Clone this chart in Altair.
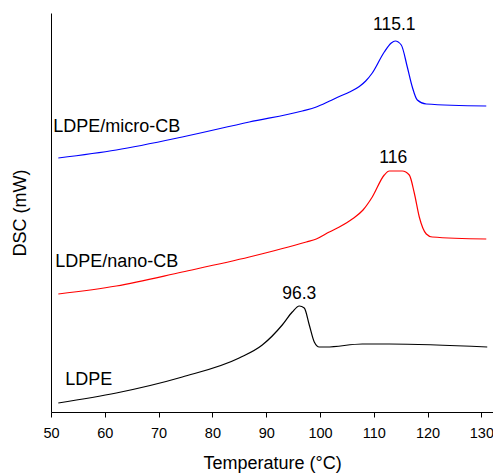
import altair as alt
import pandas as pd

# Temperatures (°C) and DSC signals (arbitrary, offset)
micro_T = [51.36, 62.14, 74.40, 86.86, 96.71, 99.31, 101.8, 103.59, 105.5, 107.31, 108.5, 109.72, 111.95, 113.25, 113.99, 115.11, 116.23, 117.16, 118.09, 119.76, 130.91]
micro_Y = [2.54, 2.62, 2.75, 2.90, 3.01, 3.05, 3.11, 3.155, 3.20, 3.255, 3.31, 3.39, 3.60, 3.69, 3.71, 3.67, 3.45, 3.25, 3.12, 3.08, 3.06]

nano_T = [51.36, 62.14, 74.40, 86.86, 97.45, 99.31, 101.73, 103.59, 106.00, 108.0, 109.72, 111.95, 112.88, 115.30, 116.60, 117.53, 118.46, 119.76, 120.87, 130.91]
nano_Y = [1.18, 1.26, 1.40, 1.55, 1.70, 1.73, 1.80, 1.85, 1.93, 2.02, 2.15, 2.37, 2.41, 2.41, 2.37, 2.19, 1.95, 1.78, 1.75, 1.73]

ldpe_T = [51.36, 62.14, 74.40, 84.98, 89.27, 92.98, 94.85, 96.15, 97.08, 98.01, 98.94, 99.87, 101.17, 107.86, 112.88, 131.09]
ldpe_Y = [0.09, 0.19, 0.35, 0.54, 0.67, 0.87, 1.00, 1.06, 1.04, 0.87, 0.70, 0.65, 0.65, 0.68, 0.68, 0.65]

series_names = ["LDPE/micro-CB", "LDPE/nano-CB", "LDPE"]
series_colors = ["#0000ff", "#ff0000", "#000000"]

peak_text = ["115.1", "116", "96.3"]
peak_x = [113.81, 113.62, 96.15]
peak_y = [3.87, 2.54, 1.18]

name_text = ["LDPE/micro-CB", "LDPE/nano-CB", "LDPE"]
name_x = [50.43, 50.80, 52.66]
name_y = [2.85, 1.50, 0.32]

x_ticks = list(range(50, 131, 5))

rows = []
for name, T, Y in zip(series_names, [micro_T, nano_T, ldpe_T], [micro_Y, nano_Y, ldpe_Y]):
    for i, (t, y) in enumerate(zip(T, Y)):
        rows.append({"series": name, "T": t, "DSC": y, "order": i})
df = pd.DataFrame(rows)

peaks = pd.DataFrame({"text": peak_text, "T": peak_x, "DSC": peak_y})
names = pd.DataFrame({"text": name_text, "T": name_x, "DSC": name_y})

FONT = "Liberation Sans"

x_scale = alt.Scale(domain=[50, 132.16], nice=False)
y_scale = alt.Scale(domain=[0, 3.99], nice=False)

x_axis = alt.Axis(
    values=x_ticks,
    labelExpr="datum.value % 10 === 0 ? datum.label : ''",
    tickSize={"condition": {"test": "datum.value % 10 === 0", "value": 5}, "value": 3},
    tickColor="black",
    domainColor="black",
    labelColor="black",
    labelFont=FONT,
    labelFontSize=14.5,
    labelPadding=9,
    labelFlush=False,
    labelOverlap=False,
    grid=False,
    title="Temperature (°C)",
    titleFont=FONT,
    titleFontSize=18,
    titleFontWeight="normal",
    titleColor="black",
    titlePadding=15,
)
y_axis = alt.Axis(
    ticks=False,
    labels=False,
    grid=False,
    domainColor="black",
    title="DSC (mW)",
    titleFont=FONT,
    titleFontSize=18,
    titleFontWeight="normal",
    titleColor="black",
    titlePadding=22,
)

lines = alt.Chart(df).mark_line(strokeWidth=1.2, interpolate="monotone").encode(
    x=alt.X("T:Q", scale=x_scale, axis=x_axis),
    y=alt.Y("DSC:Q", scale=y_scale, axis=y_axis),
    color=alt.Color("series:N", scale=alt.Scale(domain=series_names, range=series_colors), legend=None),
    order="order:Q",
)

peak_layer = alt.Chart(peaks).mark_text(font=FONT, fontSize=17.5, align="center", baseline="middle", color="black").encode(
    x=alt.X("T:Q", scale=x_scale),
    y=alt.Y("DSC:Q", scale=y_scale),
    text="text:N",
)

name_layer = alt.Chart(names).mark_text(font=FONT, fontSize=18, align="left", baseline="middle", color="black").encode(
    x=alt.X("T:Q", scale=x_scale),
    y=alt.Y("DSC:Q", scale=y_scale),
    text="text:N",
)

chart = alt.layer(lines, peak_layer, name_layer).properties(
    width=442,
    height=399,
    autosize="none",
    padding={"left": 43, "top": 5, "right": 0, "bottom": 62},
).configure_view(strokeWidth=0)

chart.save("out.html", embed_options={"renderer": "svg", "actions": False})
